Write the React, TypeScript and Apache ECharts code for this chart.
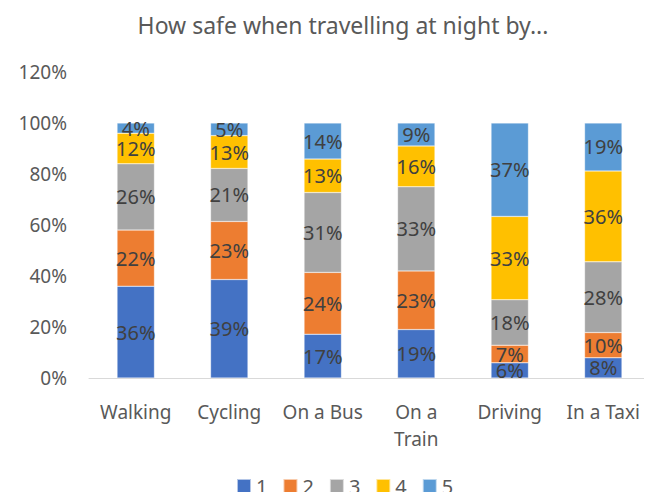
import React, { useEffect, useRef } from "react";
import * as echarts from "echarts";

const categories = ["Walking", "Cycling", "On a Bus", "On a Train", "Driving", "In a Taxi"];
const seriesNames = ["1", "2", "3", "4", "5"];
const s1 = [36, 39, 17, 19, 6, 8];
const s2 = [22, 23, 24, 23, 7, 10];
const s3 = [26, 21, 31, 33, 18, 28];
const s4 = [12, 13, 13, 16, 33, 36];
const s5 = [4, 5, 14, 9, 37, 19];
const colors = ["#4472C4", "#ED7D31", "#A5A5A5", "#FFC000", "#5B9BD5"];
const yTicks = [0, 0.2, 0.4, 0.6, 0.8, 1.0, 1.2];

const FONT = "Noto Sans";

export default function App() {
  const ref = useRef<HTMLDivElement>(null);
  useEffect(() => {
    if (!ref.current) return;
    const chart = echarts.init(ref.current, null, { renderer: "svg" });
    const all = [s1, s2, s3, s4, s5];
    const totals = categories.map((_, i) => all.reduce((a, s) => a + s[i], 0));
    chart.setOption({
      animation: false,
      textStyle: { fontFamily: FONT },
      title: {
        text: "How safe when travelling at night by...",
        left: 338,
        textAlign: "center",
        top: 8,
        textStyle: { fontFamily: FONT, fontSize: 23, fontWeight: "normal", color: "#595959" },
      },
      grid: { left: 89, right: 2, top: 72, bottom: 122 },
      legend: {
        bottom: 4,
        padding: [0, 0, 0, 0],
        left: 236,
        itemWidth: 14,
        itemHeight: 14,
        itemGap: 15,
        icon: "rect",
        data: seriesNames,
        textStyle: { fontFamily: FONT, fontSize: 20, color: "#595959" },
      },
      xAxis: {
        type: "category",
        data: categories,
        axisLine: { lineStyle: { color: "#D9D9D9", width: 1 } },
        axisTick: { show: false },
        axisLabel: {
          interval: 0,
          fontFamily: FONT,
          fontSize: 19,
          color: "#595959",
          margin: 20,
          lineHeight: 27,
          formatter: (v: string) => (v === "On a Train" ? "On a\nTrain" : v),
        },
      },
      yAxis: {
        type: "value",
        min: yTicks[0],
        max: yTicks[yTicks.length - 1],
        interval: 0.2,
        axisLine: { show: false },
        axisTick: { show: false },
        splitLine: { show: false },
        axisLabel: {
          fontFamily: FONT,
          fontSize: 19,
          color: "#595959",
          margin: 22,
          formatter: (v: number) => Math.round(v * 100) + "%",
        },
      },
      series: all.map((s, k) => ({
        name: seriesNames[k],
        type: "bar",
        stack: "total",
        barWidth: "40%",
        itemStyle: { color: colors[k], borderColor: "rgba(255,255,255,0.6)", borderWidth: 0.5 },
        label: {
          show: true,
          position: "inside",
          fontFamily: FONT,
          fontSize: 20,
          color: "#404040",
          formatter: (p: any) => s[p.dataIndex] + "%",
        },
        labelLayout: { hideOverlap: false },
        data: s.map((v, i) => v / totals[i]),
      })),
    });
    return () => chart.dispose();
  }, []);
  return <div ref={ref} style={{ width: 652, height: 500, margin: -8 }} />;
}
